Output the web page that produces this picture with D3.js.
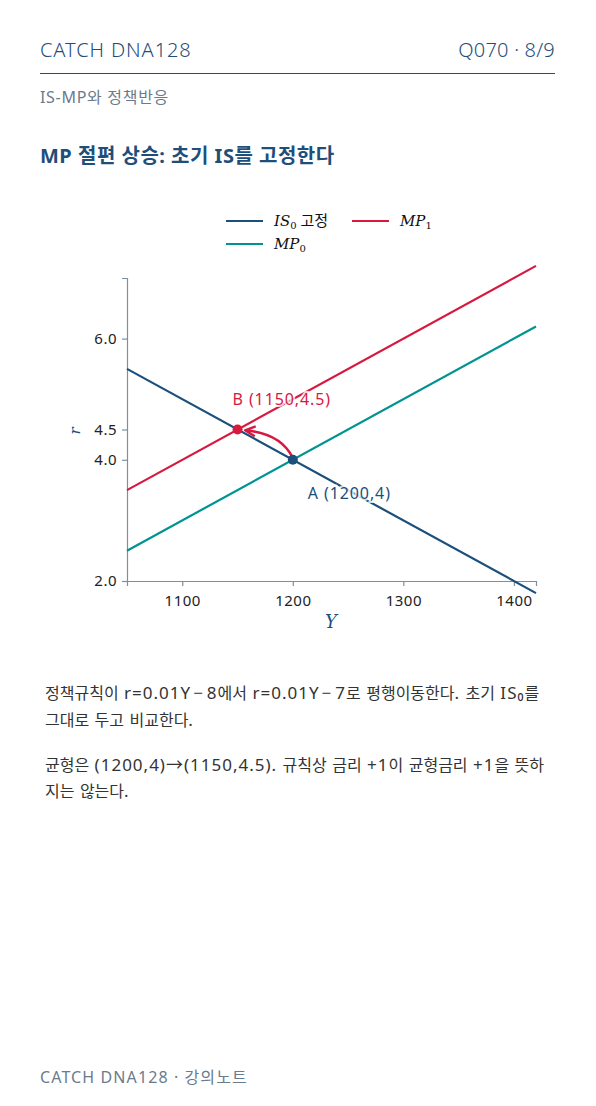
<!DOCTYPE html>
<html><head><meta charset="utf-8">
<script src="https://cdn.jsdelivr.net/npm/d3@7"></script>
<style>
body{margin:0;background:#fff;}
svg{display:block;}
</style></head>
<body>
<svg id="c" width="596" height="1106"></svg>
<script>
// Data
const yGrid = [1050, 1420];
const isValues = [5.5, 1.8];      // IS0: r = 16 - 0.01Y
const mp0Values = [2.5, 6.2];     // MP0: r = 0.01Y - 8
const mp1Values = [3.5, 7.2];     // MP1: r = 0.01Y - 7
const xTicks = [1100, 1200, 1300, 1400];
const yTicks = [2.0, 4.0, 4.5, 6.0];
const pointA = {Y: 1200, r: 4, label: "A (1200,4)"};
const pointB = {Y: 1150, r: 4.5, label: "B (1150,4.5)"};

const C = {is: "#1b4f7c", mp0: "#009393", mp1: "#d7193f", axis: "#7d8fa1", head: "#1f4e79", grey: "#6b7b8c", text: "#333"};
const KR = "'Noto Sans', 'Noto Sans CJK KR', sans-serif";
const CJK = "'Noto Sans CJK KR', sans-serif";
const MATH = "'DejaVu Serif', 'Liberation Serif', serif";

const svg = d3.select("#c");

// Mixed-script text: Hangul runs in CJK font, other runs in Latin font with spacing
function richText(sel, str) {
  const re = /([\uAC00-\uD7A3\u3130-\u318F]+|−)/;
  str.split(re).filter(s => s.length).forEach(run => {
    const t = sel.append("tspan").text(run);
    if (/[\uAC00-\uD7A3]/.test(run)) {
      t.attr("font-family", CJK).attr("font-size", 16).attr("letter-spacing", 0);
    } else if (run === "−") {
      t.attr("font-family", KR).attr("font-size", 17).attr("dx", 2).attr("letter-spacing", 4);
    } else {
      t.attr("font-family", KR).attr("font-size", 17).attr("letter-spacing", 1.0);
    }
  });
}

// Header
svg.append("text").attr("x", 40).attr("y", 57).attr("font-family", KR).attr("font-weight", 300)
  .attr("font-size", 20).attr("letter-spacing", 0.9).attr("fill", C.head).text("CATCH DNA128");
svg.append("text").attr("x", 555).attr("y", 57).attr("text-anchor", "end").attr("font-family", KR).attr("font-weight", 300)
  .attr("font-size", 20).attr("letter-spacing", 0.2).attr("fill", C.head).text("Q070 · 8/9");
svg.append("line").attr("x1", 40).attr("x2", 555).attr("y1", 73.5).attr("y2", 73.5).attr("stroke", C.head).attr("stroke-width", 1.2);
svg.append("text").attr("x", 40).attr("y", 103).attr("font-family", KR).attr("font-size", 16).attr("letter-spacing", 0.7)
  .attr("fill", C.grey).text("IS-MP와 정책반응");
svg.append("text").attr("x", 40).attr("y", 163).attr("font-family", KR).attr("font-weight", 700)
  .attr("font-size", 20).attr("letter-spacing", 0.5).attr("fill", C.head).text("MP 절편 상승: 초기 IS를 고정한다");

// Scales
const x = d3.scaleLinear().domain([1050, 1420]).range([127, 536]);
const y = d3.scaleLinear().domain([2, 7]).range([581, 278]);

// Axes
const g = svg.append("g");
const xAxis = g.append("g").attr("transform", "translate(0,581)")
  .call(d3.axisBottom(x).tickValues(xTicks).tickFormat(d3.format("d")).tickSizeOuter(0).tickSize(5));
const yAxis = g.append("g").attr("transform", "translate(127,0)")
  .call(d3.axisLeft(y).tickValues(yTicks).tickFormat(d3.format(".1f")).tickSizeOuter(0).tickSize(5));
[xAxis, yAxis].forEach(a => {
  a.select(".domain").attr("stroke", C.axis).attr("stroke-width", 1.2);
  a.selectAll(".tick line").attr("stroke", C.axis).attr("stroke-width", 1.2);
  a.selectAll(".tick text").attr("font-family", "'Noto Sans', 'Open Sans', sans-serif").attr("font-size", 15)
    .attr("letter-spacing", 0.5).attr("fill", "#222");
});
xAxis.selectAll(".tick text").attr("dy", "1.1em");
yAxis.selectAll(".tick text").attr("dx", "-2");

// Axis labels
svg.append("text").attr("transform", "translate(80,431) rotate(-90)").attr("text-anchor", "middle")
  .attr("font-family", MATH).attr("font-style", "italic").attr("font-size", 15).attr("fill", C.is).text("r");
svg.append("text").attr("x", 331).attr("y", 628).attr("text-anchor", "middle")
  .attr("font-family", MATH).attr("font-style", "italic").attr("font-size", 18).attr("fill", C.is).text("Y");

// Lines
const line = d3.line().x(d => x(d[0])).y(d => y(d[1]));
const series = [
  {vals: mp0Values, color: C.mp0},
  {vals: mp1Values, color: C.mp1},
  {vals: isValues, color: C.is}
];
series.forEach(s => {
  svg.append("path").datum(yGrid.map((Y, i) => [Y, s.vals[i]]))
    .attr("d", line).attr("fill", "none").attr("stroke", s.color).attr("stroke-width", 2.2);
});

// Arrow A -> B
const defs = svg.append("defs");
defs.append("marker").attr("id", "ah").attr("viewBox", "0 0 10 10").attr("refX", 8).attr("refY", 5)
  .attr("markerWidth", 5).attr("markerHeight", 5).attr("orient", "auto")
  .append("path").attr("d", "M1,1 L9,5 L1,9").attr("fill", "none").attr("stroke", C.mp1).attr("stroke-width", 2);
const ax = x(pointA.Y), ay = y(pointA.r), bx = x(pointB.Y) + 5, by = y(pointB.r) + 1;
svg.append("path").attr("d", `M${ax},${ay - 2} Q${ax - 12},${ay - 26} ${bx + 4},${by}`)
  .attr("fill", "none").attr("stroke", C.mp1).attr("stroke-width", 2.5).attr("marker-end", "url(#ah)");

// Points
svg.append("circle").attr("cx", x(pointA.Y)).attr("cy", y(pointA.r)).attr("r", 5).attr("fill", C.is);
svg.append("circle").attr("cx", x(pointB.Y)).attr("cy", y(pointB.r)).attr("r", 5).attr("fill", C.mp1);

// Labels with halo
svg.append("text").attr("x", x(pointB.Y) - 5).attr("y", 405).attr("font-family", KR).attr("font-size", 16).attr("letter-spacing", 0.9)
  .attr("fill", C.mp1).attr("stroke", "#fff").attr("stroke-width", 4).attr("stroke-opacity", 0.8).attr("paint-order", "stroke").text(pointB.label);
svg.append("text").attr("x", x(pointA.Y) + 15).attr("y", 499).attr("font-family", KR).attr("font-size", 16).attr("letter-spacing", 0.9)
  .attr("fill", C.is).attr("stroke", "#fff").attr("stroke-width", 4).attr("stroke-opacity", 0.8).attr("paint-order", "stroke").text(pointA.label);

// Legend
const legend = [
  {x: 226, y: 221, color: C.is, main: "IS", sub: "0", extra: " 고정"},
  {x: 352, y: 221, color: C.mp1, main: "MP", sub: "1", extra: ""},
  {x: 226, y: 244, color: C.mp0, main: "MP", sub: "0", extra: ""}
];
legend.forEach(l => {
  svg.append("line").attr("x1", l.x).attr("x2", l.x + 37).attr("y1", l.y).attr("y2", l.y)
    .attr("stroke", l.color).attr("stroke-width", 2.2);
  const t = svg.append("text").attr("x", l.x + 48).attr("y", l.y + 5).attr("font-size", 15).attr("fill", "#111");
  t.append("tspan").attr("font-family", MATH).attr("font-style", "italic").text(l.main);
  t.append("tspan").attr("font-family", MATH).attr("font-size", 10).attr("dy", 3).text(l.sub);
  if (l.extra) t.append("tspan").attr("font-family", KR).attr("dy", -3).text(l.extra);
});

// Paragraphs
const paras = [
  {y: 699, t: "정책규칙이 r=0.01Y−8에서 r=0.01Y−7로 평행이동한다. 초기 IS₀를"},
  {y: 726, t: "그대로 두고 비교한다."},
  {y: 771, t: "균형은 (1200,4)→(1150,4.5). 규칙상 금리 +1이 균형금리 +1을 뜻하"},
  {y: 797, t: "지는 않는다."}
];
paras.forEach(p => {
  const t = svg.append("text").attr("x", 45).attr("y", p.y).attr("fill", C.text);
  richText(t, p.t);
});

// Footer
svg.append("text").attr("x", 40).attr("y", 1083).attr("font-family", KR).attr("font-size", 16).attr("letter-spacing", 1.1)
  .attr("fill", C.grey).text("CATCH DNA128 · 강의노트");
</script>
</body></html>
